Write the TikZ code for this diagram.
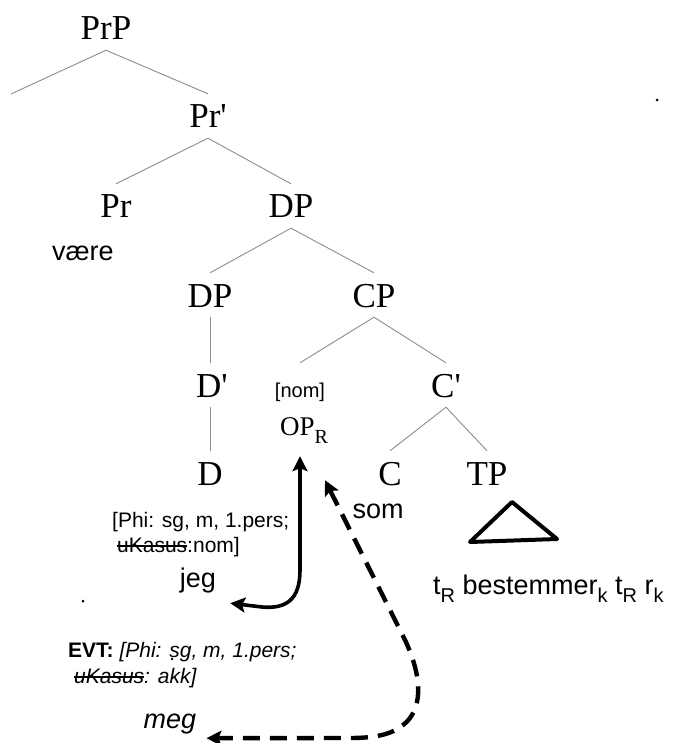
\documentclass[tikz,border=0pt]{standalone}
\usepackage{fontspec}
\setmainfont{Liberation Serif}
\setsansfont{Liberation Sans}
\usepackage{tikz}
\usetikzlibrary{arrows.meta,positioning,calc}

\newsavebox{\strkbox}
\newcommand{\strk}[1]{\sbox{\strkbox}{#1}\rlap{\rule[0.26em]{\wd\strkbox}{1.1pt}}\usebox{\strkbox}}
\newcommand{\lowsub}[1]{\raisebox{-8pt}{\fontsize{20}{20}\selectfont #1}}

\begin{document}
\begin{tikzpicture}[x=1pt,y=-1pt,
 cat/.style={font=\fontsize{35}{40}\selectfont,text height=24pt,text depth=0pt,inner xsep=0pt,inner ysep=10pt},
 br/.style={draw={rgb,255:red,140;green,140;blue,140},line width=0.9pt},
 lex/.style={font=\sffamily\fontsize{27}{30}\selectfont,inner sep=0pt,text depth=0pt},
 feat/.style={font=\sffamily\fontsize{21}{25}\selectfont,inner sep=0pt,anchor=base west},
 mv/.style={line width=3.6pt,{Stealth[length=15pt,width=15pt,inset=3pt]}-{Stealth[length=15pt,width=15pt,inset=3pt]}},
 dmv/.style={mv,line width=4.4pt,dash pattern=on 17pt off 10pt}]
 \useasboundingbox (0,0) rectangle (673,743);
 % tree
 \node[cat] (prp) at (106,28) {PrP};
 \coordinate (spec) at (11,94);
 \node[cat] (prbar) at (208,116) {Pr\textquotesingle};
 \node[cat] (pr) at (116,206) {Pr};
 \node[cat] (dp) at (291,206) {DP};
 \node[cat] (dpb) at (210,295) {DP};
 \node[cat] (cp) at (374,295) {CP};
 \node[cat] (dbar) at (212,385) {D\textquotesingle};
 \node[cat,font=\sffamily\fontsize{20}{24}\selectfont] (nom) at (300,385) {[nom]};
 \node[cat] (cbar) at (446,385) {C\textquotesingle};
 \node[cat] (d) at (210,473) {D};
 \node[cat] (c) at (390,473) {C};
 \node[cat] (tp) at (487,473) {TP};
 \node[font=\fontsize{27}{30}\selectfont,inner sep=0pt,text depth=0pt,anchor=base] (opr) at (304,435) {OP\lowsub{R}};
 \draw[br] (prp.south) -- (spec); \draw[br] (prp.south) -- (prbar.north);
 \draw[br] (prbar.south) -- (pr.north); \draw[br] (prbar.south) -- (dp.north);
 \draw[br] (dp.south) -- (dpb.north); \draw[br] (dp.south) -- (cp.north);
 \draw[br] (dpb.south) -- (dpb.south|-dbar.north); \draw[br] (cp.south) -- (nom.north); \draw[br] (cp.south) -- (cbar.north);
 \draw[br] (dbar.south-|d.north) -- (d.north); \draw[br] (cbar.south) -- (c.north); \draw[br] (cbar.south) -- (tp.north);
 \draw[line width=4pt,line join=round] (512,502) -- (470,542) -- (557,539) -- cycle;
 % words and features
 \node[lex,anchor=base] (vaere) at (83,260) {være};
 \node[lex,anchor=base] (som) at (378,518) {som};
 \node[feat] (phia) at (112,527) {[Phi: sg, m, 1.pers;};
 \node[feat] (phib) at (117,552) {\strk{uKasus}:nom]};
 \node[lex,anchor=base] (jeg) at (198,587) {jeg};
 \node[feat] (evta) at (68,657) {\textbf{EVT:} \textit{[Phi: sg, m, 1.pers;}};
 \node[feat] (evtb) at (74,683) {\textit{\strk{uKasus}: akk]}};
 \node[lex,anchor=base,font=\sffamily\itshape\fontsize{27}{30}\selectfont] (meg) at (170,728) {meg};
 \node[lex,anchor=base west] (trace) at (433,594) {t\lowsub{R} bestemmer\lowsub{k} t\lowsub{R} r\lowsub{k}};
 \fill (83,601) circle (1.5); \fill (657,100) circle (1.5); \fill (172,659) circle (1.3);
 % movement
 \coordinate (optop) at ($(opr.south)+(-4,21)$);
 \coordinate (opside) at ($(opr.south)+(21,45)$);
 \coordinate (jegend) at ($(jeg.south east)+(14,16)$);
 \coordinate (megend) at ($(meg.south east)+(10,10)$);
 \draw[mv] (optop) -- (300,570) .. controls (300,600) and (286,609) .. (262,607) -- (jegend);
 \draw[dmv] (opside) -- (405,640) .. controls (420,672) and (423,700) .. (410,718) .. controls (398,733) and (380,738) .. (350,738) -- (megend);
\end{tikzpicture}
\end{document}
